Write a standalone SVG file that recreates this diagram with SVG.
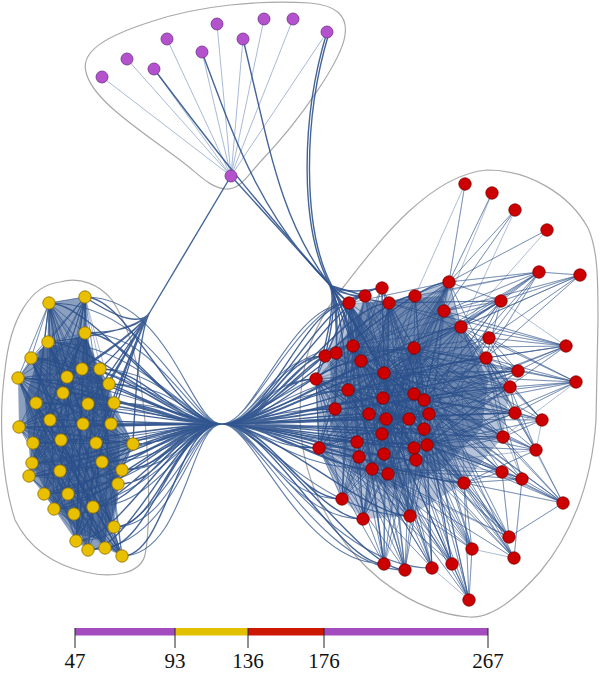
<svg xmlns="http://www.w3.org/2000/svg" width="600" height="673" viewBox="0 0 600 673">
<style>
.hull{fill:none;stroke:#a9a9a9;stroke-width:1.2}
.d{fill:none;stroke:#2b508b;stroke-width:0.75;stroke-opacity:0.5}
.f{fill:none;stroke:#2b508b;stroke-width:1.4;stroke-opacity:0.88}
.g{fill:none;stroke:#2b508b;stroke-width:1.1;stroke-opacity:0.75}
.p{fill:none;stroke:#5f7eb0;stroke-width:0.9;stroke-opacity:0.6}
.core{fill:#2b508b}
.rn{fill:#cc0000;stroke:#7a0000;stroke-width:0.8}
.yn{fill:#e8c000;stroke:#8a6a00;stroke-width:0.8}
.pn{fill:#b452cd;stroke:#70308a;stroke-width:0.8}
.lbl{font-family:"Liberation Serif","Times New Roman",serif;font-size:21px;fill:#111;text-anchor:middle}
.tick{stroke:#222;stroke-width:1}
</style>
<rect width="600" height="673" fill="#fff"/>
<g id="hulls">
<path class="hull" d="M86 72C80 50 110 35 150 22C200 5 260 0 310 3C335 5 348 15 345 35C342 60 300 120 262 160C248 175 240 190 226 189C210 188 200 175 180 160C140 130 92 100 86 72Z"/>
<path class="hull" d="M60 282C80 276 100 285 112 300C125 320 132 340 140 380C148 430 152 520 145 555C140 575 110 578 85 572C55 565 30 550 15 520C2 480 -2 420 5 370C10 320 30 285 60 282Z"/>
<path class="hull" d="M487 170C530 170 570 195 588 228C598 250 598 280 598 320L596 420C592 480 575 530 540 572C515 600 490 618 470 617C430 615 385 590 355 555C320 515 302 470 300 420C299 360 315 320 345 285C380 240 430 175 487 170Z"/>
</g>
<g id="edges">
<polygon class="core" fill-opacity="0.35" points="349,303 389,303 449,282 461,327 486,358 510,387 503,437 464,483 410,516 363,519 342,499 319,448 316,379 325,356"/>
<polygon class="core" fill-opacity="0.5" points="365,302 440,296 468,338 488,380 482,428 444,468 396,490 352,472 332,422 330,362"/>
<polygon class="core" fill-opacity="0.55" points="49,303 85,297 85,333 100,369 109,384 114,403 133,444 122,470 118,484 114,527 122,556 105,548 88,550 76,541 54,509 44,494 29,476 32,463 33,443 19,427 18,378 31,358 48,342"/>
<polygon class="core" fill-opacity="0.6" points="40,350 85,335 105,385 120,440 118,500 105,540 80,535 50,500 30,460 25,400"/>
<g id="purple-edges">
<path class="p" d="M231 176L102 77M231 176L127 59M231 176L154 69M231 176L167 39M231 176L202 52M231 176L217 24M231 176L243 39M231 176L264 19M231 176L293 19M231 176L327 32"/>
</g>
<g id="red-edges">
<path class="d" d="M465 184L449 282 465 184 415 296"/>
<path class="d" d="M492 193L449 282 492 193 444 311"/>
<path class="d" d="M515 210L449 282 515 210 444 311 515 210 461 327"/>
<path class="d" d="M547 230L449 282 547 230 461 327"/>
<path class="d" d="M539 272L449 282 539 272 501 301 539 272 444 311 539 272 461 327 539 272 489 338 539 272 486 358 539 272 415 296 539 272 414 348 539 272 424 400 539 272 384 373 539 272 389 303"/>
<path class="d" d="M580 275L539 272 580 275 501 301 580 275 489 338 580 275 444 311 580 275 461 327 580 275 486 358 580 275 414 348"/>
<path class="d" d="M449 282L349 303 449 282 389 303 449 282 414 348 449 282 384 373 449 282 424 400 449 282 461 327 449 282 486 358 449 282 386 419 449 282 353 346 449 282 501 301 449 282 348 390 449 282 319 448 449 282 372 469 449 282 316 379 449 282 427 445"/>
<path class="d" d="M501 301L414 348 501 301 384 373 501 301 424 400 501 301 461 327 501 301 486 358 501 301 389 303 501 301 427 445 501 301 444 311 501 301 386 419 501 301 372 469 501 301 353 346 501 301 348 390 501 301 349 303"/>
<path class="d" d="M566 346L489 338 566 346 486 358 566 346 461 327 566 346 444 311 566 346 414 348 566 346 518 371 566 346 424 400 566 346 427 445 566 346 384 373 566 346 386 419 566 346 389 303 566 346 501 301"/>
<path class="d" d="M576 382L518 371 576 382 510 387 576 382 486 358 576 382 489 338 576 382 515 413 576 382 424 400 576 382 461 327 576 382 427 445 576 382 386 419 576 382 384 373 576 382 414 348 576 382 503 437"/>
<path class="d" d="M518 371L486 358 518 371 461 327 518 371 414 348 518 371 424 400 518 371 384 373 518 371 427 445 518 371 489 338 518 371 386 419 518 371 353 346 518 371 348 390 518 371 372 469 518 371 316 379"/>
<path class="d" d="M510 387L486 358 510 387 414 348 510 387 424 400 510 387 427 445 510 387 386 419 510 387 384 373 510 387 489 338 510 387 461 327 510 387 353 346 510 387 348 390 510 387 372 469 510 387 319 448"/>
<path class="d" d="M515 413L424 400 515 413 427 445 515 413 414 348 515 413 486 358 515 413 386 419 515 413 384 373 515 413 510 387 515 413 353 346 515 413 348 390 515 413 372 469 515 413 461 327"/>
<path class="d" d="M542 420L515 413 542 420 510 387 542 420 486 358 542 420 424 400 542 420 427 445 542 420 414 348 542 420 503 437 542 420 384 373 542 420 386 419 542 420 461 327 542 420 536 450"/>
<path class="d" d="M503 437L427 445 503 437 424 400 503 437 386 419 503 437 486 358 503 437 414 348 503 437 384 373 503 437 372 469 503 437 353 346 503 437 348 390 503 437 319 448 503 437 461 327"/>
<path class="d" d="M536 450L427 445 536 450 503 437 536 450 424 400 536 450 486 358 536 450 386 419 536 450 510 387 536 450 464 483 536 450 384 373 536 450 414 348 536 450 461 327 536 450 372 469"/>
<path class="d" d="M502 472L427 445 502 472 424 400 502 472 386 419 502 472 464 483 502 472 372 469 502 472 414 348 502 472 384 373 502 472 348 390 502 472 353 346 502 472 319 448"/>
<path class="d" d="M522 479L427 445 522 479 424 400 522 479 464 483 522 479 502 472 522 479 386 419 522 479 414 348 522 479 384 373 522 479 372 469 522 479 486 358 522 479 461 327"/>
<path class="d" d="M563 503L502 472 563 503 522 479 563 503 503 437 563 503 427 445 563 503 424 400 563 503 464 483 563 503 536 450 563 503 414 348 563 503 384 373 563 503 386 419 563 503 509 537 563 503 515 413"/>
<path class="d" d="M464 483L427 445 464 483 424 400 464 483 386 419 464 483 372 469 464 483 414 348 464 483 384 373 464 483 348 390 464 483 353 346 464 483 319 448 464 483 316 379 464 483 349 303 464 483 389 303"/>
<path class="d" d="M509 537L427 445 509 537 424 400 509 537 464 483 509 537 386 419 509 537 372 469 509 537 502 472 509 537 414 348 509 537 384 373 509 537 348 390 509 537 353 346 509 537 319 448"/>
<path class="d" d="M514 558L427 445 514 558 424 400 514 558 464 483 514 558 386 419 514 558 522 479 514 558 384 373 514 558 372 469 514 558 414 348 514 558 348 390 514 558 472 549"/>
<path class="d" d="M472 549L427 445 472 549 386 419 472 549 372 469 472 549 424 400 472 549 384 373 472 549 464 483 472 549 353 346 472 549 348 390 472 549 319 448 472 549 414 348 472 549 316 379"/>
<path class="d" d="M452 564L427 445 452 564 386 419 452 564 372 469 452 564 424 400 452 564 384 373 452 564 348 390 452 564 388 474 452 564 319 448 452 564 353 346 452 564 414 348 452 564 316 379"/>
<path class="d" d="M432 568L427 445 432 568 386 419 432 568 372 469 432 568 384 373 432 568 348 390 432 568 319 448 432 568 414 348 432 568 353 346 432 568 316 379 432 568 424 400 432 568 349 303"/>
<path class="d" d="M405 570L386 419 405 570 372 469 405 570 384 373 405 570 348 390 405 570 319 448 405 570 427 445 405 570 353 346 405 570 414 348 405 570 316 379 405 570 424 400 405 570 349 303"/>
<path class="d" d="M384 564L348 390 384 564 319 448 384 564 372 469 384 564 386 419 384 564 384 373 384 564 353 346 384 564 316 379 384 564 414 348 384 564 424 400 384 564 349 303 384 564 427 445"/>
<path class="d" d="M469 600L464 483 469 600 427 445 469 600 372 469 469 600 386 419 469 600 452 564 469 600 424 400 469 600 384 373 469 600 414 348 469 600 348 390 469 600 472 549 469 600 432 568"/>
<path class="d" d="M410 516L386 419 410 516 372 469 410 516 348 390 410 516 319 448 410 516 384 373 410 516 427 445 410 516 353 346 410 516 424 400 410 516 316 379 410 516 349 303 410 516 389 303 410 516 414 348"/>
<path class="d" d="M363 519L319 448 363 519 348 390 363 519 372 469 363 519 386 419 363 519 316 379 363 519 384 373 363 519 353 346 363 519 349 303 363 519 389 303 363 519 414 348 363 519 424 400 363 519 427 445"/>
<path class="d" d="M342 499L319 448 342 499 348 390 342 499 316 379 342 499 372 469 342 499 386 419 342 499 353 346 342 499 384 373 342 499 349 303 342 499 389 303 342 499 414 348 342 499 424 400 342 499 427 445"/>
<path class="d" d="M319 448L348 390 319 448 316 379 319 448 353 346 319 448 386 419 319 448 372 469 319 448 384 373 319 448 349 303 319 448 424 400"/>
<path class="d" d="M316 379L349 303 316 379 353 346 316 379 348 390 316 379 384 373 316 379 386 419 316 379 319 448 316 379 389 303 316 379 414 348"/>
<path class="d" d="M325 356L349 303 325 356 353 346 325 356 348 390 325 356 384 373 325 356 386 419 325 356 389 303 325 356 414 348 325 356 372 469"/>
<path class="d" d="M336 353L349 303 336 353 424 400 336 353 348 390 336 353 384 373 336 353 386 419 336 353 427 445 336 353 414 348"/>
<path class="d" d="M349 303L353 346 349 303 384 373 349 303 348 390 349 303 386 419 349 303 414 348 349 303 424 400 349 303 427 445 349 303 372 469 349 303 316 379"/>
<path class="d" d="M365 296L353 346 365 296 384 373 365 296 348 390 365 296 386 419 365 296 414 348 365 296 424 400 365 296 427 445 365 296 319 448"/>
<path class="d" d="M382 288L353 346 382 288 384 373 382 288 348 390 382 288 386 419 382 288 414 348 382 288 424 400 382 288 427 445 382 288 372 469"/>
<path class="d" d="M389 303L353 346 389 303 414 348 389 303 384 373 389 303 424 400 389 303 386 419 389 303 427 445 389 303 461 327 389 303 348 390"/>
<path class="d" d="M415 296L353 346 415 296 414 348 415 296 384 373 415 296 424 400 415 296 386 419 415 296 427 445 415 296 486 358 415 296 348 390"/>
<path class="d" d="M444 311L414 348 444 311 384 373 444 311 424 400 444 311 386 419 444 311 427 445 444 311 353 346 444 311 486 358"/>
<path class="d" d="M461 327L414 348 461 327 384 373 461 327 424 400 461 327 386 419 461 327 427 445 461 327 353 346 461 327 464 483"/>
<path class="d" d="M489 338L414 348 489 338 384 373 489 338 424 400 489 338 386 419 489 338 427 445 489 338 372 469"/>
<path class="d" d="M486 358L414 348 486 358 384 373 486 358 424 400 486 358 386 419 486 358 427 445 486 358 353 346 486 358 348 390"/>
<path class="d" d="M353 346L414 348 353 346 424 400 353 346 427 445 353 346 372 469 353 346 319 448 353 346 464 483"/>
<path class="d" d="M414 348L348 390 414 348 386 419 414 348 372 469 414 348 319 448 414 348 427 445"/>
<path class="d" d="M335 409L414 348 335 409 424 400 335 409 427 445 335 409 384 373 335 409 372 469 335 409 464 483"/>
<path class="d" d="M357 442L414 348 357 442 424 400 357 442 427 445 357 442 384 373 357 442 349 303 357 442 389 303"/>
<path class="d" d="M384 454L414 348 384 454 424 400 384 454 349 303 384 454 389 303 384 454 449 282 384 454 319 448"/>
<path class="d" d="M388 474L414 348 388 474 424 400 388 474 353 346 388 474 389 303 388 474 348 390 388 474 316 379"/>
<path class="d" d="M414 448L349 303 414 448 389 303 414 448 353 346 414 448 316 379 414 448 348 390 414 448 449 282"/>
<path class="d" d="M424 429L349 303 424 429 353 346 424 429 316 379 424 429 348 390 424 429 319 448 424 429 372 469"/>
<path class="d" d="M429 414L349 303 429 414 353 346 429 414 316 379 429 414 348 390 429 414 319 448 429 414 389 303"/>
<path class="d" d="M414 394L349 303 414 394 316 379 414 394 319 448 414 394 372 469 414 394 449 282 414 394 342 499"/>
<path class="d" d="M361 361L424 400 361 361 427 445 361 361 386 419 361 361 464 483 361 361 449 282 361 361 486 358"/>
<path class="d" d="M383 398L449 282 383 398 461 327 383 398 486 358 383 398 319 448 383 398 349 303 383 398 342 499"/>
<path class="d" d="M369 414L449 282 369 414 461 327 369 414 414 348 369 414 427 445 369 414 389 303"/>
<path class="d" d="M409 419L349 303 409 419 316 379 409 419 319 448 409 419 363 519 409 419 449 282"/>
<path class="d" d="M382 434L349 303 382 434 461 327 382 434 486 358 382 434 316 379 382 434 449 282"/>
<path class="d" d="M359 457L449 282 359 457 414 348 359 457 424 400 359 457 389 303 359 457 427 445"/>
<path class="d" d="M416 460L349 303 416 460 353 346 416 460 316 379 416 460 348 390 416 460 384 373"/>
</g>
<g id="yellow-edges">
<path class="d" d="M49 303L18 378 49 303 36 403 49 303 50 420 49 303 33 443 49 303 29 476 49 303 44 494 49 303 54 509 49 303 76 541 49 303 63 393 49 303 83 424 49 303 88 404 49 303 85 333 49 303 31 358 49 303 100 369 49 303 114 403"/>
<path class="d" d="M85 297L31 358 85 297 36 403 85 297 19 427 85 297 32 463 85 297 44 494 85 297 76 541 85 297 88 550 85 297 88 404 85 297 96 443 85 297 93 507 85 297 48 342 85 297 85 333 85 297 49 303 85 297 61 440 85 297 60 471 85 297 18 378 85 297 109 384"/>
<path class="d" d="M85 333L18 378 85 333 36 403 85 333 50 420 85 333 33 443 85 333 29 476 85 333 68 494 85 333 76 541 85 333 105 548 85 333 102 462 85 333 111 424 85 333 48 342"/>
<path class="d" d="M48 342L100 369 48 342 109 384 48 342 114 403 48 342 133 444 48 342 122 470 48 342 118 484 48 342 114 527 48 342 122 556 48 342 102 462 48 342 93 507 48 342 96 443"/>
<path class="d" d="M31 358L100 369 31 358 109 384 31 358 114 403 31 358 133 444 31 358 122 470 31 358 114 527 31 358 122 556 31 358 93 507 31 358 105 548 31 358 82 369"/>
<path class="d" d="M18 378L109 384 18 378 114 403 18 378 133 444 18 378 118 484 18 378 122 556 18 378 105 548 18 378 88 550 18 378 93 507 18 378 68 494 18 378 82 369"/>
<path class="d" d="M19 427L100 369 19 427 109 384 19 427 114 403 19 427 133 444 19 427 122 470 19 427 114 527 19 427 122 556 19 427 105 548 19 427 85 333"/>
<path class="d" d="M36 403L100 369 36 403 114 403 36 403 133 444 36 403 122 470 36 403 114 527 36 403 122 556 36 403 88 550"/>
<path class="d" d="M33 443L85 333 33 443 100 369 33 443 109 384 33 443 133 444 33 443 118 484 33 443 122 556 33 443 105 548 33 443 114 527"/>
<path class="d" d="M32 463L85 333 32 463 100 369 32 463 114 403 32 463 133 444 32 463 122 470 32 463 122 556 32 463 114 527"/>
<path class="d" d="M29 476L85 297 29 476 82 369 29 476 109 384 29 476 133 444 29 476 118 484 29 476 122 556 29 476 105 548"/>
<path class="d" d="M44 494L85 333 44 494 100 369 44 494 114 403 44 494 133 444 44 494 122 470 44 494 122 556 44 494 88 550"/>
<path class="d" d="M54 509L85 297 54 509 109 384 54 509 114 403 54 509 133 444 54 509 118 484 54 509 122 556 54 509 114 527"/>
<path class="d" d="M76 541L85 333 76 541 100 369 76 541 133 444 76 541 114 403 76 541 18 378 76 541 36 403 76 541 122 470"/>
<path class="d" d="M88 550L49 303 88 550 31 358 88 550 109 384 88 550 133 444 88 550 19 427 88 550 48 342"/>
<path class="d" d="M105 548L49 303 105 548 18 378 105 548 36 403 105 548 31 358 105 548 109 384 105 548 19 427"/>
<path class="d" d="M122 556L85 297 122 556 48 342 122 556 18 378 122 556 36 403 122 556 100 369 122 556 29 476"/>
<path class="d" d="M114 527L49 303 114 527 31 358 114 527 18 378 114 527 36 403 114 527 100 369 114 527 32 463"/>
<path class="d" d="M133 444L49 303 133 444 31 358 133 444 18 378 133 444 19 427 133 444 29 476 133 444 54 509 133 444 76 541"/>
<path class="d" d="M100 369L18 378 100 369 19 427 100 369 29 476 100 369 54 509 100 369 76 541 100 369 88 550"/>
<path class="d" d="M109 384L31 358 109 384 19 427 109 384 32 463 109 384 44 494 109 384 88 550 109 384 49 303"/>
<path class="d" d="M114 403L18 378 114 403 33 443 114 403 29 476 114 403 54 509 114 403 76 541 114 403 48 342"/>
<path class="d" d="M122 470L18 378 122 470 31 358 122 470 33 443 122 470 44 494 122 470 49 303 122 470 85 297"/>
<path class="d" d="M118 484L31 358 118 484 36 403 118 484 19 427 118 484 54 509 118 484 48 342 118 484 85 333"/>
</g>
<g id="bundles">
<path class="f" d="M222 424C175 424 94 303 49 303M222 424C175 424 130 297 85 297M222 424C175 424 130 333 85 333M222 424C175 424 93 342 48 342M222 424C175 424 76 358 31 358M222 424C175 424 63 378 18 378M222 424C175 424 127 369 82 369M222 424C175 424 145 369 100 369M222 424C175 424 112 377 67 377M222 424C175 424 154 384 109 384M222 424C175 424 108 393 63 393M222 424C175 424 81 403 36 403M222 424C175 424 133 404 88 404M222 424C175 424 159 403 114 403M222 424C175 424 95 420 50 420M222 424C175 424 64 427 19 427M222 424C175 424 128 424 83 424M222 424C175 424 156 424 111 424M222 424C175 424 78 443 33 443M222 424C175 424 106 440 61 440M222 424C175 424 141 443 96 443M222 424C175 424 178 444 133 444M222 424C175 424 77 463 32 463M222 424C175 424 147 462 102 462M222 424C175 424 74 476 29 476M222 424C175 424 105 471 60 471M222 424C175 424 167 470 122 470M222 424C175 424 163 484 118 484M222 424C175 424 89 494 44 494M222 424C175 424 113 494 68 494M222 424C175 424 99 509 54 509M222 424C175 424 119 514 74 514M222 424C175 424 138 507 93 507M222 424C175 424 159 527 114 527M222 424C175 424 121 541 76 541M222 424C175 424 133 550 88 550M222 424C175 424 150 548 105 548M222 424C175 424 167 556 122 556"/>
<path class="g" d="M222 424C190 424 155 303 49 303M222 424C190 424 170 297 85 297M222 424C190 424 160 333 85 333M222 424C190 424 140 342 48 342M222 424C190 424 120 358 31 358M222 424C190 424 110 378 18 378M222 424C190 424 165 369 100 369M222 424C190 424 180 384 109 384M222 424C190 424 120 403 36 403M222 424C190 424 175 403 114 403M222 424C190 424 110 427 19 427M222 424C190 424 170 424 111 424M222 424C190 424 120 443 33 443M222 424C190 424 165 443 96 443M222 424C190 424 120 463 32 463M222 424C190 424 170 462 102 462M222 424C190 424 120 476 29 476M222 424C190 424 180 470 122 470M222 424C190 424 140 494 44 494M222 424C190 424 150 509 54 509M222 424C190 424 175 527 114 527M222 424C190 424 160 541 76 541M222 424C190 424 175 550 88 550M222 424C190 424 185 556 122 556M222 424C190 424 160 507 93 507"/>
<path class="f" d="M222 424C270 424 337 288 382 288M222 424C270 424 320 296 365 296M222 424C270 424 304 303 349 303M222 424C270 424 344 303 389 303M222 424C270 424 370 296 415 296M222 424C270 424 308 346 353 346M222 424C270 424 291 353 336 353M222 424C270 424 280 356 325 356M222 424C270 424 369 348 414 348M222 424C270 424 316 361 361 361M222 424C270 424 271 379 316 379M222 424C270 424 339 373 384 373M222 424C270 424 303 390 348 390M222 424C270 424 338 398 383 398M222 424C270 424 369 394 414 394M222 424C270 424 379 400 424 400M222 424C270 424 290 409 335 409M222 424C270 424 324 414 369 414M222 424C270 424 384 414 429 414M222 424C270 424 341 419 386 419M222 424C270 424 364 419 409 419M222 424C270 424 379 429 424 429M222 424C270 424 337 434 382 434M222 424C270 424 312 442 357 442M222 424C270 424 369 448 414 448M222 424C270 424 382 445 427 445M222 424C270 424 274 448 319 448M222 424C270 424 314 457 359 457M222 424C270 424 339 454 384 454M222 424C270 424 371 460 416 460M222 424C270 424 327 469 372 469M222 424C270 424 343 474 388 474M222 424C270 424 297 499 342 499M222 424C270 424 318 519 363 519M222 424C270 424 365 516 410 516M222 424C270 424 339 564 384 564M222 424C270 424 360 570 405 570M222 424C270 424 416 327 461 327M222 424C270 424 441 358 486 358M222 424C270 424 473 371 518 371M222 424C270 424 465 387 510 387M222 424C270 424 470 413 515 413M222 424C270 424 458 437 503 437M222 424C270 424 419 483 464 483M222 424C270 424 404 282 449 282"/>
<path class="g" d="M222 424C255 424 290 303 349 303M222 424C255 424 300 296 365 296M222 424C255 424 280 346 353 346M222 424C255 424 270 356 325 356M222 424C255 424 265 379 316 379M222 424C255 424 290 390 348 390M222 424C255 424 270 409 335 409M222 424C255 424 300 419 386 419M222 424C255 424 265 448 319 448M222 424C255 424 290 469 372 469M222 424C255 424 275 499 342 499M222 424C255 424 290 519 363 519M222 424C255 424 320 516 410 516M222 424C255 424 300 564 384 564M222 424C255 424 320 570 405 570M222 424C255 424 330 568 432 568M222 424C255 424 300 442 357 442M222 424C255 424 310 373 384 373M222 424C255 424 330 348 414 348M222 424C255 424 330 445 427 445"/>
<path class="f" d="M231 176L150 312Q138 332 85 297M231 176L150 312Q138 332 85 333M231 176L150 312Q138 332 82 369M231 176L150 312Q138 332 100 369M231 176L150 312Q138 332 109 384M231 176L150 312Q138 332 88 404M231 176L150 312Q138 332 114 403M231 176L150 312Q138 332 83 424M231 176L150 312Q138 332 111 424M231 176L150 312Q138 332 96 443M231 176L150 312Q138 332 67 377M231 176L150 312Q138 332 48 342M231 176L150 312Q138 332 133 444"/>
<path class="f" d="M231 176L328 283Q340 296 349 303M231 176L328 283Q340 296 365 296M231 176L328 283Q340 296 353 346M231 176L328 283Q340 296 336 353M231 176L328 283Q340 296 325 356M231 176L328 283Q340 296 316 379M231 176L328 283Q340 296 348 390M231 176L328 283Q340 296 382 288M231 176L328 283Q340 296 361 361M231 176L328 283Q340 296 335 409M231 176L328 283Q340 296 384 373M231 176L328 283Q340 296 389 303"/>
<path class="f" d="M202 52C235 140 260 215 330 285L349 303M243 39C270 150 280 220 330 285L353 346M327 32C300 120 300 230 330 285L349 303M329 33C302 122 303 232 332 286L365 296M154 69C215 150 250 195 330 285L384 373"/>
</g>
</g>
<g id="nodes">
<g id="p1"><circle class="pn" cx="102" cy="77" r="6"/></g>
<g id="p2"><circle class="pn" cx="127" cy="59" r="6"/></g>
<g id="p3"><circle class="pn" cx="154" cy="69" r="6"/></g>
<g id="p4"><circle class="pn" cx="167" cy="39" r="6"/></g>
<g id="p5"><circle class="pn" cx="202" cy="52" r="6"/></g>
<g id="p6"><circle class="pn" cx="217" cy="24" r="6"/></g>
<g id="p7"><circle class="pn" cx="243" cy="39" r="6"/></g>
<g id="p8"><circle class="pn" cx="264" cy="19" r="6"/></g>
<g id="p9"><circle class="pn" cx="293" cy="19" r="6"/></g>
<g id="p10"><circle class="pn" cx="327" cy="32" r="6"/></g>
<g id="p11"><circle class="pn" cx="231" cy="176" r="6"/></g>
<g id="y1"><circle class="yn" cx="49" cy="303" r="6.2"/></g>
<g id="y2"><circle class="yn" cx="85" cy="297" r="6.2"/></g>
<g id="y3"><circle class="yn" cx="85" cy="333" r="6.2"/></g>
<g id="y4"><circle class="yn" cx="48" cy="342" r="6.2"/></g>
<g id="y5"><circle class="yn" cx="31" cy="358" r="6.2"/></g>
<g id="y6"><circle class="yn" cx="18" cy="378" r="6.2"/></g>
<g id="y7"><circle class="yn" cx="82" cy="369" r="6.2"/></g>
<g id="y8"><circle class="yn" cx="100" cy="369" r="6.2"/></g>
<g id="y9"><circle class="yn" cx="67" cy="377" r="6.2"/></g>
<g id="y10"><circle class="yn" cx="109" cy="384" r="6.2"/></g>
<g id="y11"><circle class="yn" cx="63" cy="393" r="6.2"/></g>
<g id="y12"><circle class="yn" cx="36" cy="403" r="6.2"/></g>
<g id="y13"><circle class="yn" cx="88" cy="404" r="6.2"/></g>
<g id="y14"><circle class="yn" cx="114" cy="403" r="6.2"/></g>
<g id="y15"><circle class="yn" cx="50" cy="420" r="6.2"/></g>
<g id="y16"><circle class="yn" cx="19" cy="427" r="6.2"/></g>
<g id="y17"><circle class="yn" cx="83" cy="424" r="6.2"/></g>
<g id="y18"><circle class="yn" cx="111" cy="424" r="6.2"/></g>
<g id="y19"><circle class="yn" cx="33" cy="443" r="6.2"/></g>
<g id="y20"><circle class="yn" cx="61" cy="440" r="6.2"/></g>
<g id="y21"><circle class="yn" cx="96" cy="443" r="6.2"/></g>
<g id="y22"><circle class="yn" cx="133" cy="444" r="6.2"/></g>
<g id="y23"><circle class="yn" cx="32" cy="463" r="6.2"/></g>
<g id="y24"><circle class="yn" cx="102" cy="462" r="6.2"/></g>
<g id="y25"><circle class="yn" cx="29" cy="476" r="6.2"/></g>
<g id="y26"><circle class="yn" cx="60" cy="471" r="6.2"/></g>
<g id="y27"><circle class="yn" cx="122" cy="470" r="6.2"/></g>
<g id="y28"><circle class="yn" cx="118" cy="484" r="6.2"/></g>
<g id="y29"><circle class="yn" cx="44" cy="494" r="6.2"/></g>
<g id="y30"><circle class="yn" cx="68" cy="494" r="6.2"/></g>
<g id="y31"><circle class="yn" cx="54" cy="509" r="6.2"/></g>
<g id="y32"><circle class="yn" cx="74" cy="514" r="6.2"/></g>
<g id="y33"><circle class="yn" cx="93" cy="507" r="6.2"/></g>
<g id="y34"><circle class="yn" cx="114" cy="527" r="6.2"/></g>
<g id="y35"><circle class="yn" cx="76" cy="541" r="6.2"/></g>
<g id="y36"><circle class="yn" cx="88" cy="550" r="6.2"/></g>
<g id="y37"><circle class="yn" cx="105" cy="548" r="6.2"/></g>
<g id="y38"><circle class="yn" cx="122" cy="556" r="6.2"/></g>
<g id="r1"><circle class="rn" cx="465" cy="184" r="6.2"/></g>
<g id="r2"><circle class="rn" cx="492" cy="193" r="6.2"/></g>
<g id="r3"><circle class="rn" cx="515" cy="210" r="6.2"/></g>
<g id="r4"><circle class="rn" cx="547" cy="230" r="6.2"/></g>
<g id="r5"><circle class="rn" cx="539" cy="272" r="6.2"/></g>
<g id="r6"><circle class="rn" cx="580" cy="275" r="6.2"/></g>
<g id="r7"><circle class="rn" cx="449" cy="282" r="6.2"/></g>
<g id="r8"><circle class="rn" cx="501" cy="301" r="6.2"/></g>
<g id="r9"><circle class="rn" cx="382" cy="288" r="6.2"/></g>
<g id="r10"><circle class="rn" cx="365" cy="296" r="6.2"/></g>
<g id="r11"><circle class="rn" cx="349" cy="303" r="6.2"/></g>
<g id="r12"><circle class="rn" cx="389" cy="303" r="6.2"/></g>
<g id="r13"><circle class="rn" cx="415" cy="296" r="6.2"/></g>
<g id="r14"><circle class="rn" cx="444" cy="311" r="6.2"/></g>
<g id="r15"><circle class="rn" cx="461" cy="327" r="6.2"/></g>
<g id="r16"><circle class="rn" cx="489" cy="338" r="6.2"/></g>
<g id="r17"><circle class="rn" cx="566" cy="346" r="6.2"/></g>
<g id="r18"><circle class="rn" cx="486" cy="358" r="6.2"/></g>
<g id="r19"><circle class="rn" cx="353" cy="346" r="6.2"/></g>
<g id="r20"><circle class="rn" cx="336" cy="353" r="6.2"/></g>
<g id="r21"><circle class="rn" cx="325" cy="356" r="6.2"/></g>
<g id="r22"><circle class="rn" cx="414" cy="348" r="6.2"/></g>
<g id="r23"><circle class="rn" cx="361" cy="361" r="6.2"/></g>
<g id="r24"><circle class="rn" cx="316" cy="379" r="6.2"/></g>
<g id="r25"><circle class="rn" cx="384" cy="373" r="6.2"/></g>
<g id="r26"><circle class="rn" cx="518" cy="371" r="6.2"/></g>
<g id="r27"><circle class="rn" cx="576" cy="382" r="6.2"/></g>
<g id="r28"><circle class="rn" cx="510" cy="387" r="6.2"/></g>
<g id="r29"><circle class="rn" cx="348" cy="390" r="6.2"/></g>
<g id="r30"><circle class="rn" cx="383" cy="398" r="6.2"/></g>
<g id="r31"><circle class="rn" cx="414" cy="394" r="6.2"/></g>
<g id="r32"><circle class="rn" cx="424" cy="400" r="6.2"/></g>
<g id="r33"><circle class="rn" cx="335" cy="409" r="6.2"/></g>
<g id="r34"><circle class="rn" cx="369" cy="414" r="6.2"/></g>
<g id="r35"><circle class="rn" cx="429" cy="414" r="6.2"/></g>
<g id="r36"><circle class="rn" cx="515" cy="413" r="6.2"/></g>
<g id="r37"><circle class="rn" cx="542" cy="420" r="6.2"/></g>
<g id="r38"><circle class="rn" cx="386" cy="419" r="6.2"/></g>
<g id="r39"><circle class="rn" cx="409" cy="419" r="6.2"/></g>
<g id="r40"><circle class="rn" cx="424" cy="429" r="6.2"/></g>
<g id="r41"><circle class="rn" cx="382" cy="434" r="6.2"/></g>
<g id="r42"><circle class="rn" cx="357" cy="442" r="6.2"/></g>
<g id="r43"><circle class="rn" cx="414" cy="448" r="6.2"/></g>
<g id="r44"><circle class="rn" cx="427" cy="445" r="6.2"/></g>
<g id="r45"><circle class="rn" cx="319" cy="448" r="6.2"/></g>
<g id="r46"><circle class="rn" cx="359" cy="457" r="6.2"/></g>
<g id="r47"><circle class="rn" cx="384" cy="454" r="6.2"/></g>
<g id="r48"><circle class="rn" cx="416" cy="460" r="6.2"/></g>
<g id="r49"><circle class="rn" cx="372" cy="469" r="6.2"/></g>
<g id="r50"><circle class="rn" cx="388" cy="474" r="6.2"/></g>
<g id="r51"><circle class="rn" cx="464" cy="483" r="6.2"/></g>
<g id="r52"><circle class="rn" cx="502" cy="472" r="6.2"/></g>
<g id="r53"><circle class="rn" cx="522" cy="479" r="6.2"/></g>
<g id="r54"><circle class="rn" cx="503" cy="437" r="6.2"/></g>
<g id="r55"><circle class="rn" cx="536" cy="450" r="6.2"/></g>
<g id="r56"><circle class="rn" cx="563" cy="503" r="6.2"/></g>
<g id="r57"><circle class="rn" cx="342" cy="499" r="6.2"/></g>
<g id="r58"><circle class="rn" cx="363" cy="519" r="6.2"/></g>
<g id="r59"><circle class="rn" cx="410" cy="516" r="6.2"/></g>
<g id="r60"><circle class="rn" cx="509" cy="537" r="6.2"/></g>
<g id="r61"><circle class="rn" cx="514" cy="558" r="6.2"/></g>
<g id="r62"><circle class="rn" cx="472" cy="549" r="6.2"/></g>
<g id="r63"><circle class="rn" cx="384" cy="564" r="6.2"/></g>
<g id="r64"><circle class="rn" cx="405" cy="570" r="6.2"/></g>
<g id="r65"><circle class="rn" cx="432" cy="568" r="6.2"/></g>
<g id="r66"><circle class="rn" cx="452" cy="564" r="6.2"/></g>
<g id="r67"><circle class="rn" cx="469" cy="600" r="6.2"/></g>
</g>
<g id="legend">
<rect x="75" y="628" width="100" height="7.5" fill="#a34cbd"/>
<rect x="175" y="628" width="73" height="7.5" fill="#e2c000"/>
<rect x="248" y="628" width="76" height="7.5" fill="#cc1800"/>
<rect x="324" y="628" width="164" height="7.5" fill="#a34cbd"/>
<line class="tick" x1="75" y1="628" x2="75" y2="648"/>
<line class="tick" x1="175" y1="628" x2="175" y2="648"/>
<line class="tick" x1="248" y1="628" x2="248" y2="648"/>
<line class="tick" x1="324" y1="628" x2="324" y2="648"/>
<line class="tick" x1="488" y1="628" x2="488" y2="648"/>
<text class="lbl" x="75" y="668">47</text>
<text class="lbl" x="175" y="668">93</text>
<text class="lbl" x="248" y="668">136</text>
<text class="lbl" x="324" y="668">176</text>
<text class="lbl" x="488" y="668">267</text>
</g>
</svg>
